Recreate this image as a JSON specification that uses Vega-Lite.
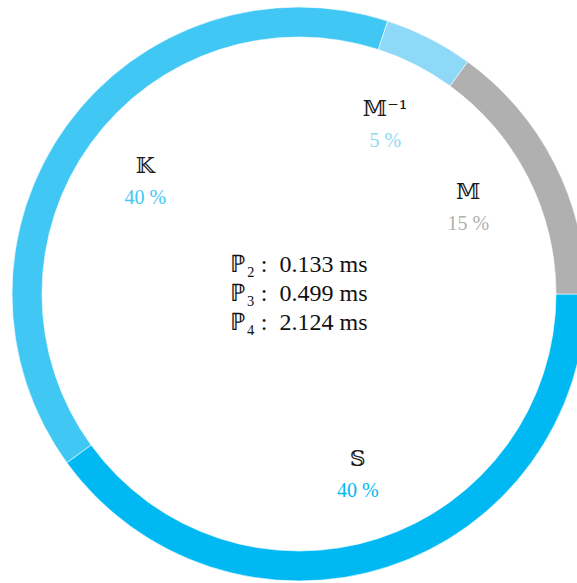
{
  "$schema": "https://vega.github.io/schema/vega-lite/v6.json",
  "width": 577,
  "height": 583,
  "autosize": {"type": "fit", "contains": "padding"},
  "padding": {"left": 21, "top": 5, "right": 0, "bottom": 0},
  "background": "white",
  "config": {"view": {"stroke": null}},
  "layer": [
    {
      "data": {"values": [
        {"idx": 1, "name": "𝕊", "pct": "40 %", "value": 40},
        {"idx": 2, "name": "𝕂", "pct": "40 %", "value": 40},
        {"idx": 3, "name": "𝕄⁻¹", "pct": "5 %", "value": 5},
        {"idx": 4, "name": "𝕄", "pct": "15 %", "value": 15}
      ]},
      "encoding": {
        "theta": {"field": "value", "type": "quantitative", "stack": true, "scale": {"range": [1.5707963, 7.8539816]}},
        "order": {"field": "idx", "type": "quantitative"},
        "color": {"field": "name", "type": "nominal", "legend": null,
          "scale": {"domain": ["𝕊", "𝕂", "𝕄⁻¹", "𝕄"], "range": ["#00B9F2", "#41C7F4", "#8ED8F8", "#B0B0B0"]}}
      },
      "layer": [
        {"mark": {"type": "arc", "outerRadius": 287, "innerRadius": 257, "stroke": "#ffffff", "strokeWidth": 0.6}},
        {"mark": {"type": "text", "radius": 190, "dy": -16, "fontSize": 22, "font": "DejaVu Serif"},
          "encoding": {"text": {"field": "name"}, "color": {"value": "#1a1a1a"}}},
        {"mark": {"type": "text", "radius": 190, "dy": 16, "fontSize": 20, "font": "Liberation Serif"},
          "encoding": {"text": {"field": "pct"}}}
      ]
    },
    {
      "data": {"values": [
        {"center": "ℙ₂\u00a0:\u00a0\u00a00.133 ms\nℙ₃\u00a0:\u00a0\u00a00.499 ms\nℙ₄\u00a0:\u00a0\u00a02.124 ms"}
      ]},
      "mark": {"type": "text", "lineBreak": "\n", "lineHeight": 29, "fontSize": 24, "dy": -29, "font": "Liberation Serif", "color": "#111111", "align": "center", "baseline": "middle"},
      "encoding": {"text": {"field": "center"}}
    }
  ]
}
